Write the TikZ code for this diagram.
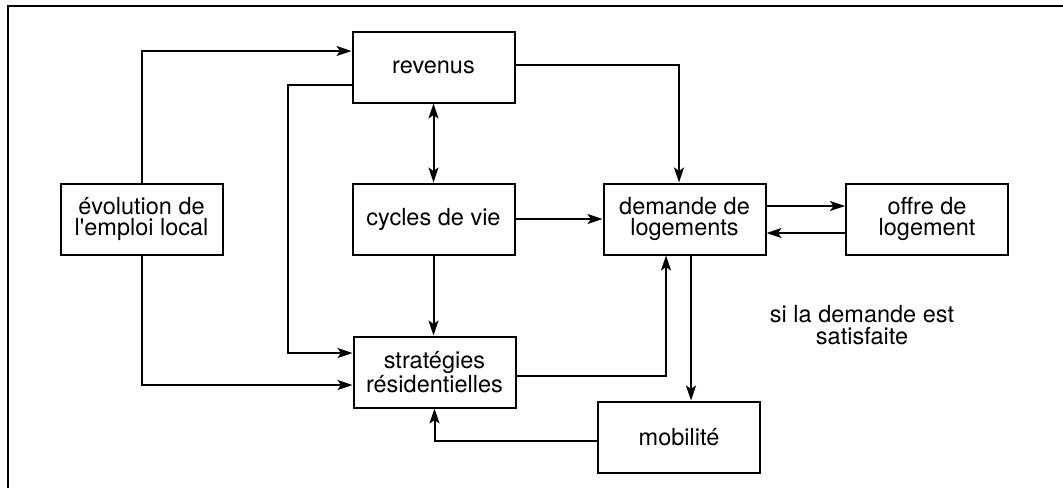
\documentclass[tikz,border=0pt]{standalone}
\usepackage{fontspec}
\setmainfont{TeX Gyre Heros}
\usepackage{tikz}
\usetikzlibrary{calc,positioning,arrows.meta}

\begin{document}
\begin{tikzpicture}[x=0.4pt, y=-0.4pt,
    >={Stealth[length=6pt, width=4pt, inset=1.4pt]},
    box/.style={draw, line width=0.8pt, minimum width=64.8pt, minimum height=28.4pt,
      inner sep=0pt, align=center, font=\fontsize{9.4}{8.6}\selectfont},
    flow/.style={line width=0.8pt, ->}]
  \useasboundingbox (0,0) rectangle (1063,488);
  \draw[line width=0.8pt] (8,488) -- (8,6) -- (1063,6);

  % boxes
  \node[box] (evol)  at (141.5,219) {évolution de\\l\textquotesingle emploi local};
  \node[box] (rev)   at (433.5,67)  {revenus};
  \node[box] (cyc)   at (433.5,219) {cycles de vie};
  \node[box] (dem)   at (684.5,219) {demande de\\logements};
  \node[box] (offre) at (927,219)   {offre de\\logement};
  \node[box] (strat) at (434.5,372) {stratégies\\résidentielles};
  \node[box] (mob)   at (679,437)   {mobilité};
  \node[align=center, font=\fontsize{9.4}{8.6}\selectfont] (cond) at (862,325)
    {si la demande est\\satisfaite};

  % links
  \draw[flow] (evol.north) |- ($(rev.west)+(0,-16)$);
  \draw[flow] ($(rev.west)+(0,18)$) -| ($(strat.west)+(-65,-19)$) -- ($(strat.west)+(0,-19)$);
  \draw[flow] (evol.south) |- ($(strat.west)+(0,13)$);
  \draw[flow, <->] (rev.south) -- (cyc.north);
  \draw[flow] ($(rev.east)+(0,-2)$) -| ($(dem.north)+(-5.5,0)$);
  \draw[flow] (cyc.east) -- (dem.west);
  \draw[flow] (cyc.south) -- (cyc.south |- strat.north);
  \draw[flow] ($(dem.east)+(0,-13)$) -- ($(offre.west)+(0,-13)$);
  \draw[flow] ($(offre.west)+(0,14)$) -- ($(dem.east)+(0,14)$);
  \draw[flow] ($(strat.east)+(0,4)$) -| ($(dem.south)+(-18.5,0)$);
  \coordinate (d1) at ($(dem.south)+(6.5,0)$);
  \draw[flow] (d1) -- (d1 |- mob.north);
  \draw[flow] ($(mob.west)+(0,4)$) -| (strat.south);
\end{tikzpicture}
\end{document}
